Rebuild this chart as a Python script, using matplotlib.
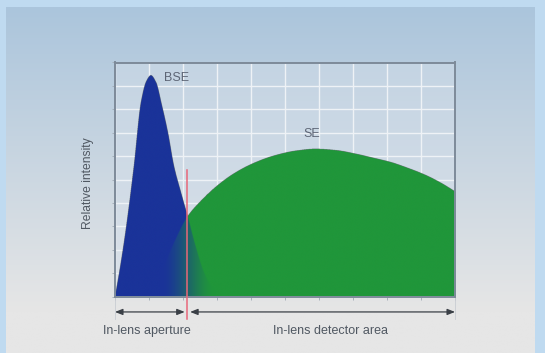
import numpy as np
import matplotlib
matplotlib.use("Agg")
import matplotlib.pyplot as plt
from matplotlib.colors import to_rgb

plt.rcParams['font.family'] = ['Liberation Sans', 'DejaVu Sans']

# ---- data ----
bse_x = [0.0, 0.15, 0.30, 0.55, 0.76, 0.92, 1.05, 1.20, 1.37, 1.55, 1.73, 1.93, 2.13, 2.35, 2.60, 2.85, 3.10]
bse_y = [0.0, 1.27, 2.70, 5.55, 8.30, 9.20, 9.44, 9.15, 8.18, 7.00, 5.55, 4.45, 3.41, 2.20, 1.05, 0.35, 0.0]

se_x = [1.05, 1.40, 1.75, 2.13, 2.50, 3.04, 3.50, 4.03, 4.66, 5.30, 5.88, 6.50, 7.00, 7.60, 8.10, 8.58, 9.10, 9.56, 10.0]
se_y = [0.0, 1.15, 2.35, 3.41, 4.04, 4.77, 5.25, 5.66, 6.00, 6.21, 6.29, 6.23, 6.10, 5.90, 5.72, 5.48, 5.18, 4.84, 4.45]

aperture_x = 2.13          # red boundary line
aperture_top = 5.4
labels = {"BSE": (1.82, 9.35), "SE": (5.79, 6.94)}
region_labels = ["In-lens aperture", "In-lens detector area"]
ylabel = "Relative intensity"

BLUE = "#1a3399"
GREEN = "#20963a"


def pchip(xk, yk, xq):
    """Monotone cubic Hermite interpolation (Fritsch-Carlson)."""
    xk = np.asarray(xk, float); yk = np.asarray(yk, float)
    h = np.diff(xk); d = np.diff(yk) / h
    m = np.zeros_like(yk)
    for i in range(1, len(xk) - 1):
        if d[i - 1] * d[i] > 0:
            w1 = 2 * h[i] + h[i - 1]; w2 = h[i] + 2 * h[i - 1]
            m[i] = (w1 + w2) / (w1 / d[i - 1] + w2 / d[i])
    m[0] = d[0]; m[-1] = d[-1]
    xq = np.asarray(xq, float)
    out = np.zeros_like(xq)
    inside = (xq >= xk[0]) & (xq <= xk[-1])
    xi = xq[inside]
    idx = np.clip(np.searchsorted(xk, xi) - 1, 0, len(xk) - 2)
    tt = (xi - xk[idx]) / h[idx]
    h00 = 2 * tt**3 - 3 * tt**2 + 1; h10 = tt**3 - 2 * tt**2 + tt
    h01 = -2 * tt**3 + 3 * tt**2; h11 = tt**3 - tt**2
    out[inside] = (h00 * yk[idx] + h10 * h[idx] * m[idx]
                   + h01 * yk[idx + 1] + h11 * h[idx] * m[idx + 1])
    return out


W, H = 545, 353
fig = plt.figure(figsize=(W / 100, H / 100), dpi=100)

# ---- figure background ----
bg = fig.add_axes([0, 0, 1, 1], zorder=-5)
bg.axis("off")
outer = np.array(to_rgb("#bfdaf0"))
bg.imshow(np.ones((2, 2, 3)) * outer, extent=[0, W, H, 0], aspect="auto")
top_c = np.array(to_rgb("#abc5dc")); bot_c = np.array(to_rgb("#e6e6e6"))
t = np.linspace(0, 1, 256)
tt = np.clip(t / 0.88, 0, 1)[:, None]
grad = (top_c * (1 - tt) + bot_c * tt)[:, None, :].repeat(2, axis=1)
bg.imshow(grad, extent=[6, 535, H, 7], aspect="auto")
bg.set_xlim(0, W); bg.set_ylim(H, 0)

# ---- main axes ----
ax = fig.add_axes([115 / W, 1 - 296.5 / H, 340 / W, 234 / H])
ax.set_xlim(0, 10); ax.set_ylim(0, 10)

ptop = np.array(to_rgb("#c4d4e3")); pbot = np.array(to_rgb("#dce2e9"))
pg = (ptop * (1 - t[:, None]) + pbot * t[:, None])[:, None, :].repeat(2, axis=1)
ax.imshow(pg, extent=[0, 10, 0, 10], aspect="auto", zorder=0)

ax.set_xticks(np.arange(0, 11, 1))
ax.set_yticks(np.arange(0, 11, 1))
ax.grid(True, color="#eef2f6", linewidth=1.0, zorder=0.5)
ax.set_axisbelow(True)
ax.tick_params(length=2, width=0.6, color="#a0aab5", labelleft=False, labelbottom=False)
for s in ax.spines.values():
    s.set_color("#7d8a99"); s.set_linewidth(1.4)

# ---- filled curves rendered as an image (blue / green with blend) ----
nx, ny = 1400, 1000
xs = np.linspace(0, 10, nx)
ys = np.linspace(0, 10, ny)
X, Y = np.meshgrid(xs, ys)
b = pchip(bse_x, bse_y, xs)[None, :]
s = pchip(se_x, se_y, xs)[None, :]
in_b = Y <= b
in_s = Y <= s
w = np.clip((X - 1.35) / (2.95 - 1.35), 0, 1)
w = w * w * (3 - 2 * w)
cb = np.array(to_rgb(BLUE)); cg = np.array(to_rgb(GREEN))
img = np.zeros((ny, nx, 4))
both = in_b & in_s
onlyb = in_b & ~in_s
onlys = in_s & ~in_b
img[onlyb, :3] = cb; img[onlyb, 3] = 1
img[onlys, :3] = cg; img[onlys, 3] = 1
wb = w[both][:, None]
img[both, :3] = cb * (1 - wb) + cg * wb; img[both, 3] = 1
ax.imshow(img, extent=[0, 10, 0, 10], origin="lower", aspect="auto",
          interpolation="antialiased", zorder=2)

# ---- red boundary ----
ax.plot([aperture_x, aperture_x], [-0.95, aperture_top], color="#e8677a",
        linewidth=1.1, zorder=3, clip_on=False)

# ---- dimension arrows ----
ay = -0.66
arrow_kw = dict(arrowstyle="<|-|>,head_length=0.45,head_width=0.18",
                color="#3a3f46", lw=0.9, shrinkA=0, shrinkB=0)
ax.annotate("", xy=(0.0, ay), xytext=(aperture_x - 0.08, ay),
            arrowprops=arrow_kw, annotation_clip=False)
ax.annotate("", xy=(aperture_x + 0.08, ay), xytext=(10.0, ay),
            arrowprops=arrow_kw, annotation_clip=False)
for xe in (0.0, 10.0):
    ax.plot([xe, xe], [-0.95, 0], color="#c8ccd2", lw=0.6, clip_on=False, zorder=1)

# ---- text ----
tc = "#505862"
ax.text(0.93, -1.47, region_labels[0], ha="center", va="center", fontsize=9, color=tc)
ax.text(6.33, -1.47, region_labels[1], ha="center", va="center", fontsize=9, color=tc)
ax.text(-0.78, 4.85, ylabel, ha="center", va="center", rotation=90, fontsize=8.7, color=tc)
for k, (lx, ly) in labels.items():
    ax.text(lx, ly, k, ha="center", va="center", fontsize=9, color="#5d6575", zorder=4)

fig.savefig("out.png", dpi=100)
